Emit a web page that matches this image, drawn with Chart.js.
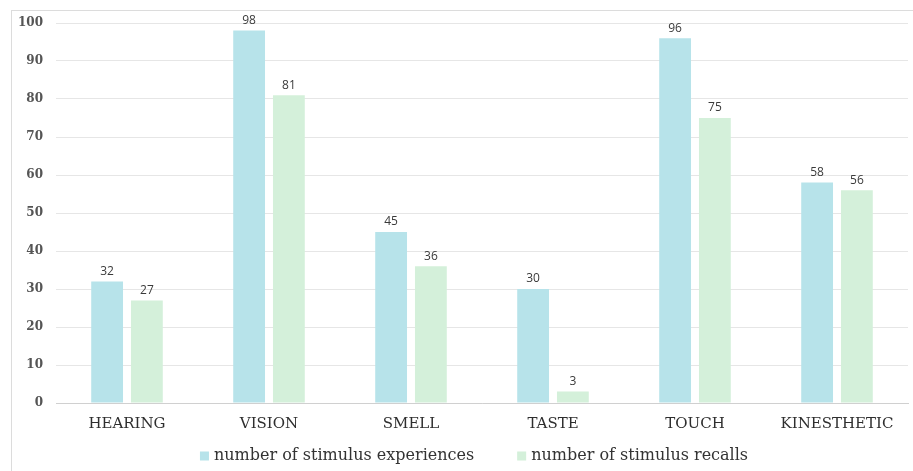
<!DOCTYPE html>
<html>
<head>
<meta charset="utf-8">
<script src="https://cdn.jsdelivr.net/npm/chart.js@4/dist/chart.umd.min.js"></script>
<style>
  html, body { margin: 0; padding: 0; background: #ffffff; overflow: hidden; }
  #wrap { width: 913px; height: 471px; position: relative; }
</style>
</head>
<body>
<div id="wrap"><canvas id="c" width="913" height="471"></canvas></div>
<script>
// Senses and how often each was experienced / recalled
const categories = ['HEARING', 'VISION', 'SMELL', 'TASTE', 'TOUCH', 'KINESTHETIC'];
const experiences = [32, 98, 45, 30, 96, 58];
const recalls = [27, 81, 36, 3, 75, 56];
const seriesNames = ['number of stimulus experiences', 'number of stimulus recalls'];
const yTicks = [0, 10, 20, 30, 40, 50, 60, 70, 80, 90, 100];

const serif = '"DejaVu Serif", "Liberation Serif", serif';

// Thin frame around the figure
const framePlugin = {
  id: 'frame',
  beforeDraw(chart) {
    const ctx = chart.ctx;
    ctx.save();
    ctx.strokeStyle = '#dcdcdc';
    ctx.lineWidth = 1;
    ctx.strokeRect(11.5, 10.5, chart.width + 10, chart.height + 10);
    ctx.restore();
  }
};

// Value printed above every bar
const valueLabels = {
  id: 'valueLabels',
  afterDatasetsDraw(chart) {
    const ctx = chart.ctx;
    ctx.save();
    ctx.font = '12px "Open Sans", "Liberation Sans", sans-serif';
    ctx.fillStyle = '#3a3a3a';
    ctx.textAlign = 'center';
    ctx.textBaseline = 'bottom';
    chart.data.datasets.forEach((ds, i) => {
      chart.getDatasetMeta(i).data.forEach((bar, j) => {
        ctx.fillText(String(ds.data[j]), bar.x, bar.y - 4);
      });
    });
    ctx.restore();
  }
};

// Legend row under the axis: square swatch + series name, centred
const bottomLegend = {
  id: 'bottomLegend',
  afterDraw(chart) {
    const ctx = chart.ctx;
    const ds = chart.data.datasets;
    const box = 9, textGap = 5, itemGap = 43, cy = 456;
    ctx.save();
    ctx.font = '16px ' + serif;
    ctx.textBaseline = 'middle';
    const widths = ds.map(d => box + textGap + ctx.measureText(d.label).width);
    const total = widths.reduce((a, b) => a + b, 0) + itemGap * (ds.length - 1);
    let x = 474 - total / 2;
    ds.forEach((d, i) => {
      ctx.fillStyle = d.backgroundColor;
      ctx.fillRect(x, cy - box / 2, box, box);
      ctx.fillStyle = '#333333';
      ctx.fillText(d.label, x + box + textGap, cy);
      x += widths[i] + itemGap;
    });
    ctx.restore();
  }
};

new Chart(document.getElementById('c'), {
  type: 'bar',
  data: {
    labels: categories,
    datasets: [
      { label: seriesNames[0], data: experiences, backgroundColor: '#b7e3ea' },
      { label: seriesNames[1], data: recalls, backgroundColor: '#d4f0da' }
    ]
  },
  options: {
    responsive: false,
    animation: false,
    devicePixelRatio: 1,
    layout: { padding: { top: 23, right: 5, left: 0, bottom: 30 } },
    datasets: { bar: { categoryPercentage: 0.56, barPercentage: 0.8 } },
    scales: {
      x: {
        grid: { display: false, drawTicks: false },
        border: { display: true, color: '#d0d0d0' },
        ticks: { color: '#2e2e2e', font: { family: serif, size: 15 }, padding: 12, maxRotation: 0 },
        afterFit(s) { s.height = 38; }
      },
      y: {
        min: 0, max: 100,
        afterBuildTicks(s) { s.ticks = yTicks.map(v => ({ value: v })); },
        grid: { color: '#e6e6e6', drawTicks: false },
        border: { display: false },
        ticks: { color: '#555555', font: { family: serif, size: 12, weight: 'bold' }, padding: 13 },
        afterFit(s) { s.width = 56; }
      }
    },
    plugins: {
      legend: { display: false },
      tooltip: { enabled: false }
    }
  },
  plugins: [framePlugin, valueLabels, bottomLegend]
});
</script>
</body>
</html>
